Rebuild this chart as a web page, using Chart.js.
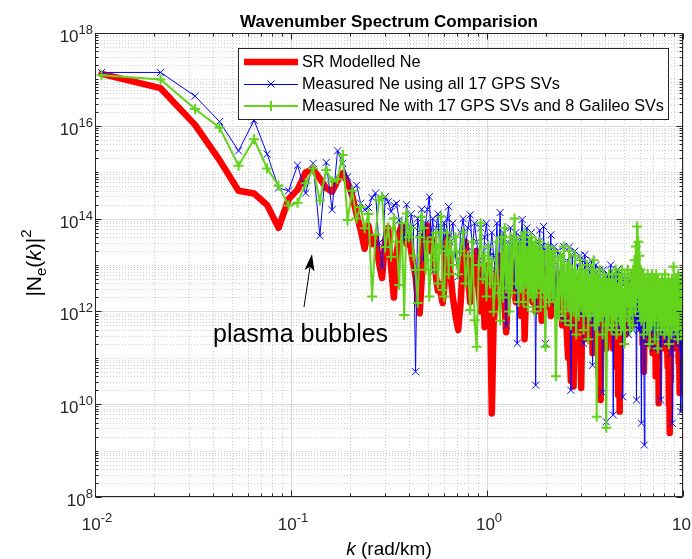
<!DOCTYPE html>
<html><head><meta charset="utf-8">
<script src="https://cdn.jsdelivr.net/npm/chart.js@4.4.1/dist/chart.umd.min.js"></script>
<style>html,body{margin:0;padding:0;background:#fff;}#wrap{width:692px;height:559px;}</style>
</head><body><div id="wrap"><canvas id="c" width="692" height="559"></canvas></div>
<script>
// wavenumber k (rad/km)
const kValues = [0.0108,0.0216,0.0324,0.0432,0.054,0.0648,0.0756,0.0864,0.0972,0.108,0.1188,0.1296,0.1404,0.1512,0.162,0.1728,0.1836,0.1944,0.2052,0.216,0.2268,0.2376,0.2484,0.2592,0.27,0.2808,0.2916,0.3024,0.3132,0.324,
0.3348,0.3456,0.3564,0.3672,0.378,0.3888,0.3996,0.4104,0.4212,0.432,0.4428,0.4536,0.4644,0.4752,0.486,0.4968,0.5076,0.5184,0.5292,0.54,0.5508,0.5616,0.5724,0.5832,0.594,0.6048,0.6156,0.6264,0.6372,0.648,
0.6696,0.6912,0.7128,0.7344,0.756,0.7776,0.7992,0.8208,0.8424,0.864,0.8856,0.9072,0.9288,0.9504,0.972,0.9936,1.0152,1.0368,1.0584,1.08,
1.1016,1.1232,1.1448,1.1664,1.188,1.2096,1.2312,1.2528,1.2744,1.296,1.3176,1.3392,1.3608,1.3824,1.404,1.4256,1.4472,1.4688,1.4904,1.512,1.5336,1.5552,1.5768,1.5984,1.62,
1.6416,1.6632,1.6848,1.7064,1.728,1.7496,1.7712,1.7928,1.8144,1.836,1.8576,1.8792,1.9008,1.9224,1.944,1.9656,1.9872,2.0088,2.0304,2.052,2.0736,2.0952,2.1168,2.1384,2.16,
2.2032,2.2464,2.2896,2.3328,2.376,2.4192,2.4624,2.5056,2.5488,2.592,2.6352,2.6784,2.7216,2.7648,2.808,2.8512,2.8944,2.9376,2.9808,3.024,3.0672,3.1104,3.1536,3.1968,3.24,
3.2832,3.3264,3.3696,3.4128,3.456,3.4992,3.5424,3.5856,3.6288,3.672,3.7152,3.7584,3.8016,3.8448,3.888,3.9312,3.9744,4.0176,4.0608,4.104,4.1472,4.1904,4.2336,4.2768,4.32,
4.3632,4.4064,4.4496,4.4928,4.536,4.5792,4.6224,4.6656,4.7088,4.752,4.7952,4.8384,4.8816,4.9248,4.968,5.0112,5.0544,5.0976,5.1408,5.184,
5.2272,5.2704,5.3136,5.3568,5.4,5.4432,5.4864,5.5296,5.5728,5.616,5.6592,5.7024,5.7456,5.7888,5.832,5.8752,5.9184,5.9616,6.0048,6.048,
6.0912,6.1344,6.1776,6.2208,6.264,6.3072,6.3504,6.3936,6.4368,6.48,6.5232,6.5664,6.6096,6.6528,6.696,6.7392,6.7824,6.8256,6.8688,6.912,
6.9552,6.9984,7.0416,7.0848,7.128,7.1712,7.2144,7.2576,7.3008,7.344,7.3872,7.4304,7.4736,7.5168,7.56,7.6032,7.6464,7.6896,7.7328,7.776,
7.8192,7.8624,7.9056,7.9488,7.992,8.0352,8.0784,8.1216,8.1648,8.208,8.2512,8.2944,8.3376,8.3808,8.424,8.4672,8.5104,8.5536,8.5968,8.64,
8.6832,8.7264,8.7696,8.8128,8.856,8.8992,8.9424,8.9856,9.0288,9.072,9.1152,9.1584,9.2016,9.2448,9.288,9.3312,9.3744,9.4176,9.4608,9.504,
9.5472,9.5904,9.6336,9.6768,9.72,9.7632,9.8064,9.8496,9.8928,9.936];

// log10 |Ne(k)|^2
const srModelledLog10 = [17.12,16.81,16.02,15.26,14.60,14.54,14.29,13.80,14.42,14.62,
15.00,15.06,14.86,14.66,14.58,14.82,14.98,14.78,14.50,14.10,
13.75,13.35,13.85,13.45,13.60,13.05,12.72,13.55,13.80,12.95,
12.30,13.20,13.70,13.85,13.70,13.45,13.60,13.30,13.00,12.75,
12.30,11.96,12.70,13.50,13.80,13.85,13.70,13.30,13.55,13.10,
12.70,12.45,12.60,12.35,12.18,12.50,13.20,13.60,13.40,12.90,
12.30,11.90,11.60,12.20,13.20,13.50,12.80,12.20,13.10,12.60,
13.30,12.40,12.00,12.90,11.66,12.40,13.00,12.10,9.80,11.70,
12.20,12.90,12.60,13.20,13.00,12.50,12.10,11.55,12.30,12.80,12.60,13.10,13.00,12.40,12.20,12.90,12.90,12.20,11.90,12.70,12.90,11.40,12.20,12.60,12.60,
13.00,12.90,12.30,12.20,12.80,12.90,12.00,12.40,12.70,12.90,12.20,12.40,11.80,12.30,12.60,12.40,12.90,12.80,12.10,12.30,12.60,12.70,11.90,12.20,12.50,
12.70,12.30,12.00,12.80,12.40,11.70,12.60,12.50,11.60,11.00,11.30,10.50,11.90,10.38,12.60,12.20,12.00,12.70,11.50,10.35,12.20,11.80,12.30,12.50,12.00,
11.40,11.80,12.30,12.40,11.10,12.10,12.60,12.30,11.70,11.50,10.60,11.20,10.09,12.50,11.90,11.90,12.40,12.30,11.20,11.80,12.10,12.60,11.50,11.90,12.30,
12.2,11.2,12.5,11.6,12.0,10.8,11.9,10.2,11.4,9.84,
11.0,11.8,12.3,11.3,12.1,11.6,12.4,11.5,12.2,11.8,
12.5,11.6,12.3,11.9,12.6,11.7,12.4,11.9,12.8,12.1,
12.6,12.0,12.9,12.3,12.7,11.9,12.5,12.2,12.9,11.8,
12.4,11.6,12.2,11.3,11.8,10.7,11.4,11.9,12.3,11.6,
12.2,11.4,12.4,11.7,12.1,11.3,12.2,11.6,12.3,11.5,
12.0,11.1,12.2,11.6,12.1,11.4,11.8,10.6,11.4,12.0,
12.3,11.5,11.9,10.02,11.2,11.8,12.2,11.5,12.4,11.7,
12.2,11.4,12.3,11.6,12.0,11.2,12.2,11.7,12.4,11.6,
12.1,11.3,11.8,10.8,11.5,10.0,10.6,9.38,10.5,11.4,
11.9,11.2,12.2,11.5,12.1,11.3,12.3,11.7,12.0,11.4,
12.2,11.5,12.0,11.2,12.3,11.6,12.1,11.4,11.8,10.9,
11.4,10.24,11.3,11.8,12.2,11.5,12.0,11.7,12.1,11.9];

const gpsOnlyLog10 = [17.15,17.15,16.64,16.09,15.46,16.12,15.39,14.66,14.60,15.15,
14.55,15.19,13.63,15.21,14.19,15.46,15.19,14.90,14.62,14.72,
14.33,14.19,14.24,14.45,14.55,13.47,12.96,14.47,14.36,14.15,
14.29,14.33,13.97,13.80,13.54,14.30,13.60,14.10,13.83,10.70,
14.00,13.70,14.20,13.10,13.90,14.20,14.47,13.60,14.00,12.89,
13.80,14.10,13.40,13.80,13.30,13.90,13.60,14.00,14.26,13.50,
13.90,13.20,12.75,13.70,14.00,13.40,13.80,14.08,13.30,13.90,
13.50,13.10,13.80,12.75,13.60,13.90,13.40,13.20,13.70,13.20,
12.9,13.90,12.8,14.13,13.0,13.7,12.6,11.70,13.5,12.7,13.8,12.9,13.6,12.5,13.7,11.31,13.5,12.8,13.6,13.98,12.7,13.5,12.6,13.8,12.9,
13.5,12.6,13.7,13.0,12.40,13.4,10.41,13.3,12.6,13.5,13.75,12.7,13.4,12.5,13.83,12.8,11.31,13.3,12.6,13.4,12.7,13.2,13.65,12.6,13.1,
13.4,12.2,13.3,11.9,13.2,12.3,13.4,11.8,13.1,12.4,13.39,10.30,13.2,12.1,13.3,11.7,13.0,12.2,13.2,11.9,13.1,11.31,13.22,12.0,13.0,
11.8,12.9,12.2,13.1,10.84,12.9,11.9,13.0,12.1,12.8,11.6,12.9,12.0,12.7,10.25,12.9,11.8,12.7,9.62,12.8,11.9,12.6,12.1,13.0,11.7,
12.6,9.77,12.8,11.9,12.5,12.2,12.9,11.6,12.86,12.0,
12.5,11.8,12.7,10.16,12.4,12.1,12.6,11.7,12.5,12.2,
12.7,11.5,12.4,12.0,12.6,11.8,12.3,11.6,12.5,11.9,
12.4,11.7,12.6,10.09,12.3,11.8,12.5,11.6,12.2,12.0,
12.4,9.59,12.1,11.6,12.3,11.4,9.12,11.9,12.2,11.5,
12.4,11.7,12.1,11.3,12.3,11.8,12.5,11.5,12.2,11.9,
12.4,11.6,12.1,11.2,12.3,11.8,12.4,11.5,12.0,11.7,
12.3,11.4,12.2,11.9,12.4,11.6,12.1,10.09,12.3,11.7,
12.2,11.5,12.4,11.8,12.1,11.3,12.3,11.7,12.0,11.6,
12.3,11.4,12.1,11.8,12.2,11.5,12.4,11.6,12.0,11.7,
12.3,11.1,12.1,9.59,12.2,11.8,12.4,11.5,12.0,11.6,
12.3,11.4,12.1,11.7,12.2,11.3,12.4,11.8,12.0,11.5,
12.3,11.7,12.1,11.2,12.2,9.84,12.0,11.6,12.2,11.8];

const gpsGalileoLog10 = [17.09,17.00,16.36,15.96,15.14,15.71,15.08,14.71,14.28,14.34,
14.76,15.08,14.39,15.05,14.80,14.85,15.37,13.97,14.60,14.00,
14.25,13.79,14.10,12.32,13.65,14.40,14.47,13.39,13.80,13.18,
14.00,13.50,12.57,13.90,11.92,14.11,13.60,13.80,13.20,12.89,
12.18,13.60,14.04,13.80,12.90,13.50,12.32,13.10,13.60,12.90,
13.70,12.60,13.40,14.04,12.46,12.32,13.30,13.70,12.80,13.50,
13.00,13.60,12.80,13.30,13.70,12.60,13.20,12.03,13.50,11.81,
11.24,13.00,13.90,12.70,13.20,12.32,13.40,12.60,13.10,11.99,
12.6,13.5,12.4,11.80,13.6,12.3,13.8,12.5,13.4,12.0,13.6,12.4,13.3,14.0,12.6,13.5,12.2,13.4,12.5,13.6,12.2,13.7,12.6,13.3,12.1,
13.5,12.4,13.6,12.3,13.4,12.0,13.5,12.4,13.3,12.6,13.5,12.1,13.3,12.5,13.2,12.3,11.24,13.2,12.4,13.4,12.2,13.3,12.5,13.2,12.3,
13.3,10.60,13.1,11.9,13.2,12.0,13.4,11.8,13.0,12.1,13.3,11.7,12.9,12.0,13.2,11.5,12.8,11.9,13.1,12.1,12.9,11.6,12.8,12.0,13.0,
11.4,12.7,11.9,12.9,12.0,13.1,11.7,12.8,9.73,12.7,11.8,12.9,11.9,12.6,11.5,12.8,12.0,12.7,9.49,12.6,11.7,12.8,12.0,12.6,11.6,
12.8,11.7,12.6,11.9,12.9,11.5,12.5,12.0,12.8,11.8,
12.7,11.6,12.9,12.1,12.4,11.3,12.8,11.9,12.6,12.2,
12.9,11.8,12.5,11.6,12.8,12.0,12.7,11.7,12.9,12.2,
13.1,12.0,13.4,12.3,13.83,12.4,13.5,12.1,13.2,11.9,
12.9,11.8,12.7,12.2,12.8,11.5,12.6,11.9,12.7,12.0,
12.5,11.6,12.8,11.9,12.4,11.3,12.7,12.0,12.6,11.7,
12.8,11.8,12.5,12.1,12.7,11.4,12.6,11.9,12.8,12.0,
12.5,11.2,12.7,11.8,12.4,12.0,12.6,11.6,12.5,11.9,
12.7,11.7,12.4,12.0,12.6,11.5,12.8,11.8,12.5,12.1,
12.6,11.6,12.4,11.9,12.7,11.3,12.5,12.0,12.6,11.8,
12.4,11.5,12.7,11.9,12.5,12.1,12.96,11.7,12.6,12.0,
12.4,11.6,12.7,11.8,12.5,11.9,12.6,11.4,12.8,12.0,
12.5,11.7,12.6,11.9,12.4,11.5,12.7,12.0,12.5,11.8];

const seriesNames = ['SR Modelled Ne','Measured Ne using all 17 GPS SVs','Measured Ne with 17 GPS SVs and 8 Galileo SVs'];
const xTickExponents = [-2,-1,0,1];
const yTickExponents = [8,10,12,14,16,18];
const titleText = 'Wavenumber Spectrum Comparision';
const annotationText = 'plasma bubbles';

const RED = '#ff0000', BLUE = '#0000ff', GREEN = '#63d31c', AX = '#262626';
const FF = '"Liberation Sans", Arial, Helvetica, sans-serif';

function toPoints(logs){ return kValues.map((k,i)=>({x:k, y:Math.pow(10, logs[i])})); }

function rich(ctx, parts, x, y, align){
  let w = 0;
  const ws = parts.map(p=>{ ctx.font = (p.b?'bold ':'')+(p.i?'italic ':'')+p.s+'px '+FF; const m = ctx.measureText(p.t).width; w += m; return m; });
  let cx = align==='center' ? x - w/2 : (align==='right' ? x - w : x);
  ctx.textAlign = 'left';
  parts.forEach((p,j)=>{ ctx.font = (p.b?'bold ':'')+(p.i?'italic ':'')+p.s+'px '+FF; ctx.fillText(p.t, cx, y + (p.dy||0)); cx += ws[j]; });
}

const gridPlugin = {
  id:'matlabGrid',
  beforeDatasetsDraw(chart){
    const {ctx, chartArea:a, scales:{x, y}} = chart;
    ctx.save();
    ctx.lineWidth = 1;
    ctx.strokeStyle = '#cfcfcf';
    ctx.setLineDash([1,2]);
    ctx.beginPath();
    for (let e=-2; e<1; e++) for (let m=2; m<=9; m++){
      const px = Math.round(x.getPixelForValue(m*Math.pow(10,e)))+0.5;
      ctx.moveTo(px, a.top); ctx.lineTo(px, a.bottom);
    }
    for (let e=8; e<18; e++) for (let m=1; m<=9; m++){
      if (m===1 && e%2===0) continue;
      const py = Math.round(y.getPixelForValue(m*Math.pow(10,e)))+0.5;
      ctx.moveTo(a.left, py); ctx.lineTo(a.right, py);
    }
    ctx.stroke();
    ctx.setLineDash([]);
    ctx.strokeStyle = '#dcdcdc';
    ctx.beginPath();
    xTickExponents.forEach(e=>{ const px=Math.round(x.getPixelForValue(Math.pow(10,e)))+0.5; ctx.moveTo(px,a.top); ctx.lineTo(px,a.bottom); });
    yTickExponents.forEach(e=>{ const py=Math.round(y.getPixelForValue(Math.pow(10,e)))+0.5; ctx.moveTo(a.left,py); ctx.lineTo(a.right,py); });
    ctx.stroke();
    ctx.restore();
  }
};

const overlayPlugin = {
  id:'matlabOverlay',
  afterDraw(chart){
    const {ctx, chartArea:a, scales:{x, y}} = chart;
    ctx.save();
    ctx.setLineDash([]);
    ctx.strokeStyle = AX; ctx.fillStyle = AX; ctx.lineWidth = 1;
    const L = Math.round(a.left)+0.5, R = Math.round(a.right)-0.5, T = Math.round(a.top)+0.5, B = Math.round(a.bottom)-0.5;
    ctx.beginPath();
    for (let e=-2; e<=1; e++) for (let m=1; m<=9; m++){
      if (e===1 && m>1) break;
      const px = Math.round(x.getPixelForValue(m*Math.pow(10,e)))+0.5;
      const len = m===1 ? 6 : 3;
      ctx.moveTo(px, B); ctx.lineTo(px, B-len);
      ctx.moveTo(px, T); ctx.lineTo(px, T+len);
    }
    for (let e=8; e<=18; e++) for (let m=1; m<=9; m++){
      if (e===18 && m>1) break;
      const py = Math.round(y.getPixelForValue(m*Math.pow(10,e)))+0.5;
      const len = (m===1 && e%2===0) ? 6 : 3;
      ctx.moveTo(L, py); ctx.lineTo(L+len, py);
      ctx.moveTo(R, py); ctx.lineTo(R-len, py);
    }
    ctx.stroke();
    ctx.strokeRect(L, T, R-L, B-T);

    ctx.fillStyle = AX; ctx.textBaseline = 'alphabetic';
    xTickExponents.forEach(e=>{
      const px = x.getPixelForValue(Math.pow(10,e));
      rich(ctx, [{t:'10', s:17},{t:String(e), s:13, dy:-8}], px+2, 530, 'center');
    });
    yTickExponents.forEach(e=>{
      const py = y.getPixelForValue(Math.pow(10,e));
      rich(ctx, [{t:'10', s:17},{t:String(e), s:13, dy:-8}], 93, py+9, 'right');
    });

    ctx.fillStyle = '#000';
    rich(ctx, [{t:'k', s:19, i:true},{t:' (rad/km)', s:19}], 389, 555, 'center');
    ctx.save();
    ctx.translate(41, 263);
    ctx.rotate(-Math.PI/2);
    rich(ctx, [{t:'|N', s:21},{t:'e', s:15, dy:5},{t:'(', s:21},{t:'k', s:21, i:true},{t:')|', s:21},{t:'2', s:15, dy:-10}], 0, 0, 'center');
    ctx.restore();

    rich(ctx, [{t:titleText, s:17, b:true}], 389, 27, 'center');

    const lx=238.5, ly=48.5, lw=430, lh=71;
    ctx.fillStyle='#fff'; ctx.fillRect(lx,ly,lw,lh);
    ctx.strokeStyle=AX; ctx.lineWidth=1; ctx.strokeRect(lx,ly,lw,lh);
    const rows=[62,84,106];
    ctx.strokeStyle=RED; ctx.lineWidth=6.5; ctx.lineCap='butt';
    ctx.beginPath(); ctx.moveTo(244,rows[0]); ctx.lineTo(298,rows[0]); ctx.stroke();
    ctx.strokeStyle=BLUE; ctx.lineWidth=1;
    ctx.beginPath(); ctx.moveTo(244,rows[1]+0.5); ctx.lineTo(298,rows[1]+0.5); ctx.stroke();
    ctx.beginPath(); ctx.moveTo(267.5,rows[1]-3.5); ctx.lineTo(274.5,rows[1]+3.5); ctx.moveTo(274.5,rows[1]-3.5); ctx.lineTo(267.5,rows[1]+3.5); ctx.stroke();
    ctx.strokeStyle=GREEN; ctx.lineWidth=2;
    ctx.beginPath(); ctx.moveTo(244,rows[2]); ctx.lineTo(298,rows[2]); ctx.stroke();
    ctx.beginPath(); ctx.moveTo(271,rows[2]-5); ctx.lineTo(271,rows[2]+5); ctx.moveTo(266,rows[2]); ctx.lineTo(276,rows[2]); ctx.stroke();
    ctx.fillStyle='#000'; ctx.textBaseline='middle';
    seriesNames.forEach((n,i)=> rich(ctx,[{t:n,s:16.3}],302,rows[i]+1,'left'));

    ctx.textBaseline='alphabetic';
    rich(ctx,[{t:annotationText,s:25}],213,342,'left');
    const tx=304, ty=307, hx=312, hy=254;
    const dx=hx-tx, dy=hy-ty, len=Math.hypot(dx,dy), ux=dx/len, uy=dy/len;
    const hl=17, hw=5;
    const bx=hx-ux*hl, by=hy-uy*hl;
    ctx.strokeStyle='#000'; ctx.lineWidth=1;
    ctx.beginPath(); ctx.moveTo(tx,ty); ctx.lineTo(bx+ux*4,by+uy*4); ctx.stroke();
    ctx.fillStyle='#000';
    ctx.beginPath(); ctx.moveTo(hx,hy);
    ctx.lineTo(bx - uy*hw, by + ux*hw);
    ctx.lineTo(bx + ux*4, by + uy*4);
    ctx.lineTo(bx + uy*hw, by - ux*hw);
    ctx.closePath(); ctx.fill();
    ctx.restore();
  }
};

new Chart(document.getElementById('c').getContext('2d'), {
  type:'line',
  data:{datasets:[
    {label:seriesNames[0], data:toPoints(srModelledLog10), borderColor:RED, backgroundColor:RED, borderWidth:6.5, pointRadius:0, borderJoinStyle:'round', borderCapStyle:'round', order:3},
    {label:seriesNames[1], data:toPoints(gpsOnlyLog10), borderColor:BLUE, backgroundColor:BLUE, borderWidth:1, pointStyle:'crossRot', pointRadius:5, pointBorderWidth:1, pointBorderColor:BLUE, order:2},
    {label:seriesNames[2], data:toPoints(gpsGalileoLog10), borderColor:GREEN, backgroundColor:GREEN, borderWidth:2, pointStyle:'cross', pointRadius:5, pointBorderWidth:2, pointBorderColor:GREEN, order:1}
  ]},
  options:{
    responsive:false, animation:false, devicePixelRatio:1, events:[],
    layout:{padding:{left:95, top:33, right:9, bottom:62}},
    elements:{line:{tension:0}},
    plugins:{legend:{display:false}, tooltip:{enabled:false}, title:{display:false}},
    scales:{
      x:{type:'logarithmic', min:0.01, max:10, display:false},
      y:{type:'logarithmic', min:1e8, max:1e18, display:false}
    }
  },
  plugins:[gridPlugin, overlayPlugin]
});
</script>
</body></html>
